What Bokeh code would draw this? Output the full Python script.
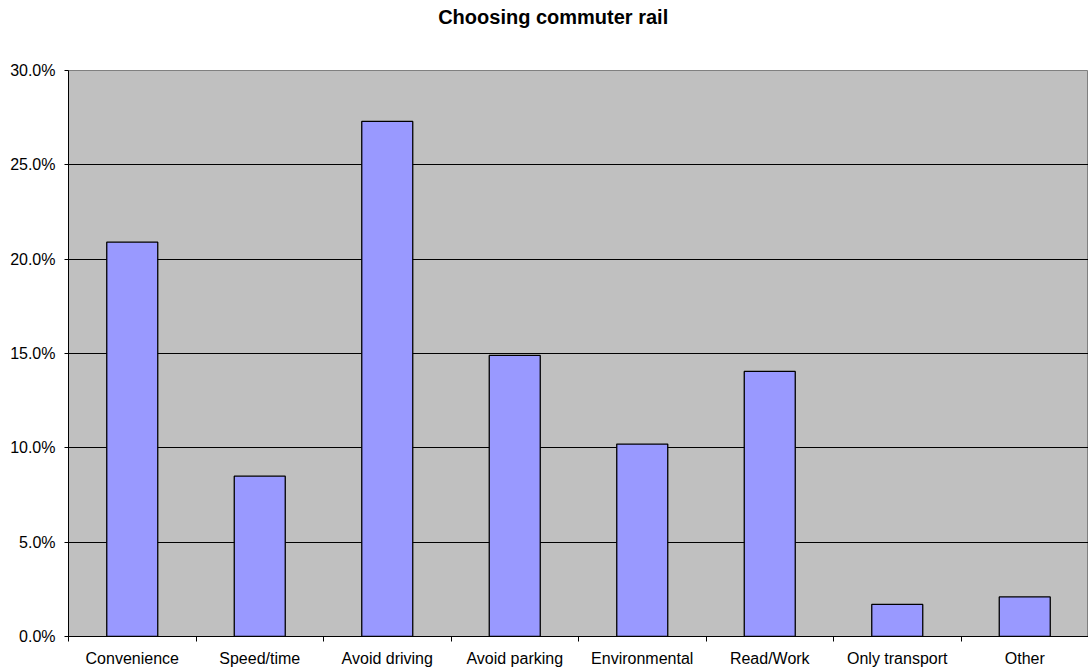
from bokeh.plotting import figure
from bokeh.models import FixedTicker, NumeralTickFormatter, Range1d
from bokeh.layouts import column
from bokeh.core.properties import value
from bokeh.embed import file_html
from bokeh.resources import INLINE

categories = ["Convenience", "Speed/time", "Avoid driving", "Avoid parking",
              "Environmental", "Read/Work", "Only transport", "Other"]
shares = [0.209, 0.085, 0.273, 0.149, 0.102, 0.1405, 0.017, 0.021]
y_ticks = [0.0, 0.05, 0.10, 0.15, 0.20, 0.25, 0.30]
title_text = "Choosing commuter rail"

n = len(categories)
centers = [i + 0.5 for i in range(n)]

# --- title strip ---
t = figure(width=1088, height=40, output_backend="svg", toolbar_location=None,
           x_range=Range1d(0, 1088), y_range=Range1d(40, 0),
           x_axis_type=None, y_axis_type=None,
           min_border=0, outline_line_color=None)
t.grid.visible = False
t.text(x=[517], y=[16], text=[title_text], text_align="center",
       text_baseline="middle", text_font=value("Liberation Sans"),
       text_font_size="20px", text_font_style="bold", text_color="black")

# --- main chart ---
p = figure(width=1088, height=629, output_backend="svg", toolbar_location=None,
           x_range=Range1d(0, n), y_range=Range1d(0, 0.30),
           min_border_left=68, min_border_right=0, min_border_top=30, min_border_bottom=32)

p.background_fill_color = "#c0c0c0"
p.border_fill_color = "white"
p.outline_line_color = "#808080"
p.outline_line_width = 1

p.vbar(x=centers, top=shares, width=0.4, fill_color="#9999ff",
       line_color="black", line_width=1.3)

p.xgrid.visible = False
p.ygrid.grid_line_color = "black"
p.ygrid.grid_line_width = 1
p.ygrid.ticker = FixedTicker(ticks=y_ticks)

xa = p.xaxis[0]
xa.ticker = FixedTicker(ticks=centers, minor_ticks=list(range(n + 1)))
xa.major_label_overrides = {c: cat for c, cat in zip(centers, categories)}
xa.major_tick_out = 0
xa.major_tick_in = 0
xa.minor_tick_out = 5
xa.minor_tick_in = 0
xa.minor_tick_line_color = "black"
xa.axis_line_color = "black"
xa.major_label_standoff = 8
xa.major_label_text_font = "Liberation Sans"
xa.major_label_text_font_size = "16px"
xa.major_label_text_color = "black"

ya = p.yaxis[0]
ya.ticker = FixedTicker(ticks=y_ticks)
ya.formatter = NumeralTickFormatter(format="0.0%")
ya.major_tick_out = 4
ya.major_tick_in = 0
ya.minor_tick_line_color = None
ya.axis_line_color = "black"
ya.major_tick_line_color = "black"
ya.major_label_standoff = 9
ya.major_label_text_font = "Liberation Sans"
ya.major_label_text_font_size = "16px"
ya.major_label_text_color = "black"

layout = column(t, p, spacing=0)
open("out.html", "w").write(file_html(layout, INLINE))
